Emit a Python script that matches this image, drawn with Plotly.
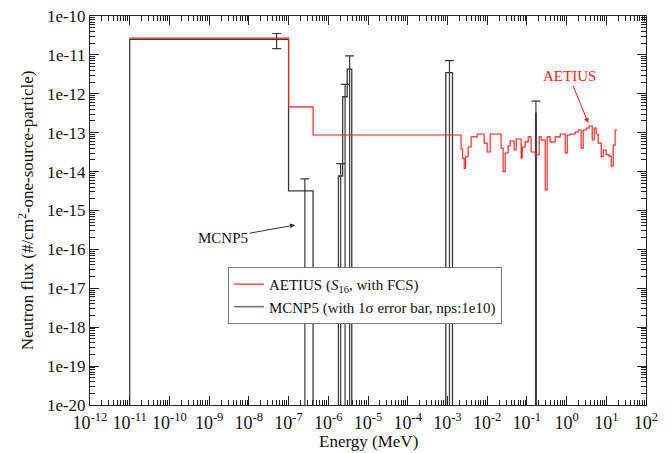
import numpy as np
import plotly.graph_objects as go

# ---------------- data ----------------
# AETIUS (S16, with FCS) group-flux histogram: bin edges (MeV) and flux per bin
aetius_edges = [1e-11, 1e-7, 4.14e-7, 2.2e-3, 2.42e-3, 2.64e-3, 2.87e-3, 3.32e-3, 3.95e-3,
                5.6e-3, 8.4e-3, 1.0e-2, 1.19e-2, 2.25e-2, 2.53e-2, 2.84e-2, 3.38e-2,
                3.79e-2, 4.79e-2, 5.37e-2, 7.18e-2, 7.62e-2, 9.06e-2, 0.108, 0.128,
                0.162, 0.204, 0.229, 0.289, 0.324, 0.386, 0.516, 0.690, 0.923, 1.04,
                1.23, 1.65, 1.96, 2.33, 2.62, 3.12, 3.71, 4.42, 4.95, 5.57, 6.25, 7.44,
                8.36, 9.93, 11.8, 13.3, 14.9, 16.7, 18.8]
aetius_flux = [2.7e-11, 4.6e-13, 8.7e-14, 3.8e-14, 2.2e-14, 1.2e-14, 2.4e-14, 4.3e-14,
               7.8e-14, 9.3e-14, 5.4e-14, 3.2e-14, 9.3e-14, 4.0e-14, 1.0e-14, 3.0e-14,
               4.6e-14, 6.1e-14, 3.6e-14, 6.9e-14, 2.2e-14, 4.3e-14, 5.8e-14, 7.8e-14,
               3.2e-14, 2.7e-14, 7.8e-14, 6.5e-14, 3.4e-15, 7.8e-14, 5.8e-14, 7.8e-14,
               9.3e-14, 3.0e-14, 8.7e-14, 9.3e-14, 1.04e-13, 1.17e-13, 4.0e-14, 1.17e-13,
               1.32e-13, 1.49e-13, 6.5e-14, 1.32e-13, 9.3e-14, 5.4e-14, 2.4e-14, 3.6e-14,
               2.7e-14, 2.5e-14, 1.4e-14, 4.8e-14, 1.17e-13]

# MCNP5 tally histogram: bin edges (MeV), flux, 1-sigma absolute error
mcnp_edges = [1e-11, 1e-7, 4.14e-7, 1.8e-6, 2.3e-6, 3.0e-6, 3.9e-6, 9.1e-4, 1.34e-3,
              0.166, 0.172, 20.0]
mcnp_flux = [2.5e-11, 3.2e-15, 0.0, 7.7e-15, 8.4e-13, 4.3e-12, 0.0, 3.5e-12, 0.0,
             3.2e-13, 0.0]
mcnp_sigma = [1.05e-11, 3.3e-15, 0.0, 8.3e-15, 9.1e-13, 5.1e-12, 0.0, 3.6e-12, 0.0,
              3.3e-13, 0.0]

x_tick_exp = list(range(-12, 3))
y_tick_exp = list(range(-20, -9))

FONT = "Liberation Serif"
FLOOR = 1e-30  # stands in for zero flux on the log axis

# ---------------- helpers ----------------
def step_xy(edges, vals, start_from_floor=False):
    xs = list(edges)
    ys = [v if v > 0 else FLOOR for v in vals] + [vals[-1] if vals[-1] > 0 else FLOOR]
    if start_from_floor:
        xs = [edges[0]] + xs
        ys = [FLOOR] + ys
    return xs, ys

ax_x, ax_y = step_xy(aetius_edges, aetius_flux)
mc_x, mc_y = step_xy(mcnp_edges, mcnp_flux, start_from_floor=True)

# error bars at linear bin midpoints (non-empty bins only)
eb_x, eb_y, eb_p, eb_m = [], [], [], []
for i, (f, s) in enumerate(zip(mcnp_flux, mcnp_sigma)):
    if f > 0:
        eb_x.append(0.5 * (mcnp_edges[i] + mcnp_edges[i + 1]))
        eb_y.append(f)
        eb_p.append(s)
        eb_m.append(s)

BLACK = "#3a3a3a"
RED = "#ff1a1a"

fig = go.Figure()
# legend-only entries (the real curves are drawn below, red on top of black)
fig.add_trace(go.Scatter(x=[None], y=[None], mode="lines", line=dict(color="#ff5a5a", width=1.6),
                         name="AETIUS (<i>S</i><sub>16</sub>, with FCS)"))
fig.add_trace(go.Scatter(x=[None], y=[None], mode="lines", line=dict(color="#707070", width=1.6),
                         name="MCNP5 (with 1σ error bar, nps:1e10)"))
fig.add_trace(go.Scatter(x=mc_x, y=mc_y, mode="lines", line=dict(color=BLACK, width=1.3, shape="hv"),
                         showlegend=False, hoverinfo="skip"))
fig.add_trace(go.Scatter(x=eb_x, y=eb_y, mode="markers", marker=dict(size=0.1, color=BLACK, opacity=0),
                         error_y=dict(type="data", array=eb_p, arrayminus=eb_m, symmetric=False,
                                      color=BLACK, thickness=1.2, width=4.5),
                         showlegend=False, hoverinfo="skip"))
fig.add_trace(go.Scatter(x=ax_x, y=ax_y, mode="lines", line=dict(color=RED, width=1.1, shape="hv"),
                         showlegend=False, hoverinfo="skip"))

axis_common = dict(type="log", showline=True, linecolor="#222", linewidth=1, mirror="ticks",
                   ticks="inside", ticklen=9, tickwidth=1, tickcolor="#222", showgrid=False,
                   zeroline=False, automargin=False,
                   minor=dict(ticks="inside", ticklen=5, tickwidth=1, tickcolor="#222",
                              dtick="D1", showgrid=False))

fig.update_xaxes(**axis_common, range=[-12, 2],
                 tickvals=[10.0 ** e for e in x_tick_exp],
                 ticktext=[f"10<sup>{e}</sup>" for e in x_tick_exp],
                 ticklabelstandoff=1,
                 tickfont=dict(family=FONT, size=18, color="#111"))
fig.update_yaxes(**axis_common, range=[-20, -10],
                 tickvals=[10.0 ** e for e in y_tick_exp],
                 ticktext=[f"1e{e}" for e in y_tick_exp],
                 tickfont=dict(family=FONT, size=17, color="#111"),
                 title=dict(text="Neutron flux (#/cm<sup>2</sup>-one-source-particle)",
                            font=dict(family=FONT, size=17, color="#111"), standoff=8))

fig.update_layout(
    width=672, height=453,
    margin=dict(l=90, r=26, t=16, b=48, autoexpand=False),
    paper_bgcolor="white", plot_bgcolor="white",
    font=dict(family=FONT, color="#111"),
    legend=dict(x=0.248, y=0.355, xanchor="left", yanchor="top",
                bgcolor="white", bordercolor="#777", borderwidth=1,
                font=dict(family=FONT, size=15, color="#111"),
                tracegroupgap=0),
    annotations=[
        dict(x=0.5, y=-0.093, xref="paper", yref="paper", text="Energy (MeV)", showarrow=False,
             xanchor="center", yanchor="middle", font=dict(family=FONT, size=17, color="#111")),
        dict(x=-6.836, y=-15.373, xref="x", yref="y", text="MCNP5", showarrow=True,
             ax=-72, ay=13, arrowhead=2, arrowsize=1, arrowwidth=1, arrowcolor="#333",
             font=dict(family=FONT, size=15, color="#111")),
        dict(x=0.544, y=-12.751, xref="x", yref="y", text="AETIUS", showarrow=True,
             ax=-19, ay=-47, arrowhead=2, arrowsize=1, arrowwidth=1, arrowcolor=RED,
             font=dict(family=FONT, size=15, color=RED)),
    ],
)

fig.write_html("out.html")
